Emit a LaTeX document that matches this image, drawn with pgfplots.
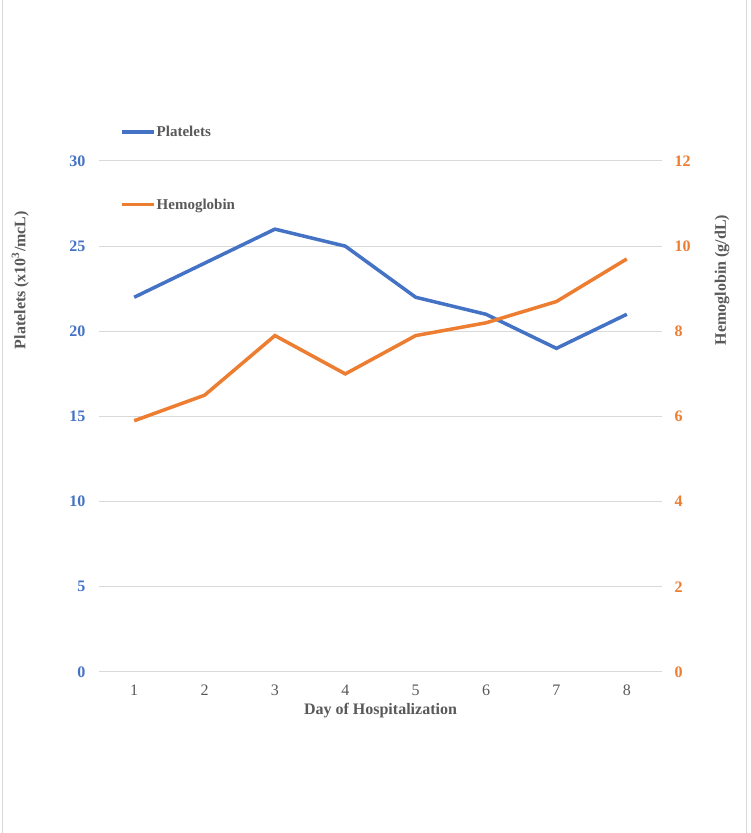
\documentclass[border=0pt]{standalone}
\usepackage{fontspec}
\setmainfont{Liberation Serif}
\usepackage{pgfplots}
\pgfplotsset{compat=1.18}
\definecolor{pblue}{HTML}{4472C4}
\definecolor{porange}{HTML}{ED7D31}
\definecolor{tgray}{HTML}{595959}
\definecolor{ggray}{HTML}{D9D9D9}
\begin{document}
\begin{tikzpicture}[x=1pt,y=1pt]
\useasboundingbox (0,0) rectangle (750,833);
\fill[white] (0,0) rectangle (750,833);
\draw[ggray, line width=1pt] (2,0) -- (2,833);
\draw[ggray, line width=1pt] (746,0) -- (746,833);
\begin{axis}[
  at={(99pt,161pt)}, anchor=south west,
  scale only axis, width=563pt, height=511pt,
  xmin=0.5, xmax=8.5, ymin=0, ymax=30,
  xtick={1,...,8}, ytick={0,5,...,30},
  axis y line*=left, axis x line*=bottom,
  axis line style={draw=none},
  major tick length=0pt,
  ymajorgrids, grid style={ggray, line width=1pt},
  /pgf/number format/assume math mode=true,
  yticklabel style={font=\fontsize{16}{19}\selectfont\bfseries, text=pblue, xshift=-10pt},
  xticklabel style={font=\fontsize{16}{19}\selectfont, text=tgray, yshift=-9pt},
  xlabel={Day of Hospitalization},
  xlabel style={font=\fontsize{16}{19}\selectfont\bfseries, text=tgray, at={(axis description cs:0.5,-0.0763)}, anchor=center},
  ylabel={Platelets (x10\textsuperscript{3}/mcL)},
  ylabel style={font=\fontsize{16}{19}\selectfont\bfseries, text=tgray, at={(axis description cs:-0.140,0.767)}, anchor=center},
]
\addplot[pblue, line width=3.5pt] coordinates {(1,22) (2,24) (3,26) (4,25) (5,22) (6,21) (7,19) (8,21)};
\end{axis}
\begin{axis}[
  at={(99pt,161pt)}, anchor=south west,
  scale only axis, width=563pt, height=511pt,
  xmin=0.5, xmax=8.5, ymin=0, ymax=12,
  ytick={0,2,...,12},
  axis y line*=right, axis x line=none,
  axis line style={draw=none},
  major tick length=0pt,
  /pgf/number format/assume math mode=true,
  yticklabel style={font=\fontsize{16}{19}\selectfont\bfseries, text=porange, xshift=9pt},
  ylabel={Hemoglobin (g/dL)},
  ylabel style={font=\fontsize{16}{19}\selectfont\bfseries, text=tgray, at={(axis description cs:1.1066,0.767)}, anchor=center, rotate=0},
  legend style={at={(axis description cs:0.032,1.075)}, anchor=north west, draw=none, fill=none,
    font=\fontsize{15}{18}\selectfont\bfseries, text=tgray, row sep=59pt,
    nodes={inner sep=1pt}},
  legend cell align=left,
  legend image code/.code={\draw[#1] (0pt,0pt) -- (32pt,0pt);},
]
\addlegendimage{pblue, line width=3.5pt}
\addlegendentry{Platelets}
\addplot[porange, line width=3.5pt] coordinates {(1,5.9) (2,6.5) (3,7.9) (4,7.0) (5,7.9) (6,8.2) (7,8.7) (8,9.7)};
\addlegendentry{Hemoglobin}
\end{axis}
\end{tikzpicture}
\end{document}
